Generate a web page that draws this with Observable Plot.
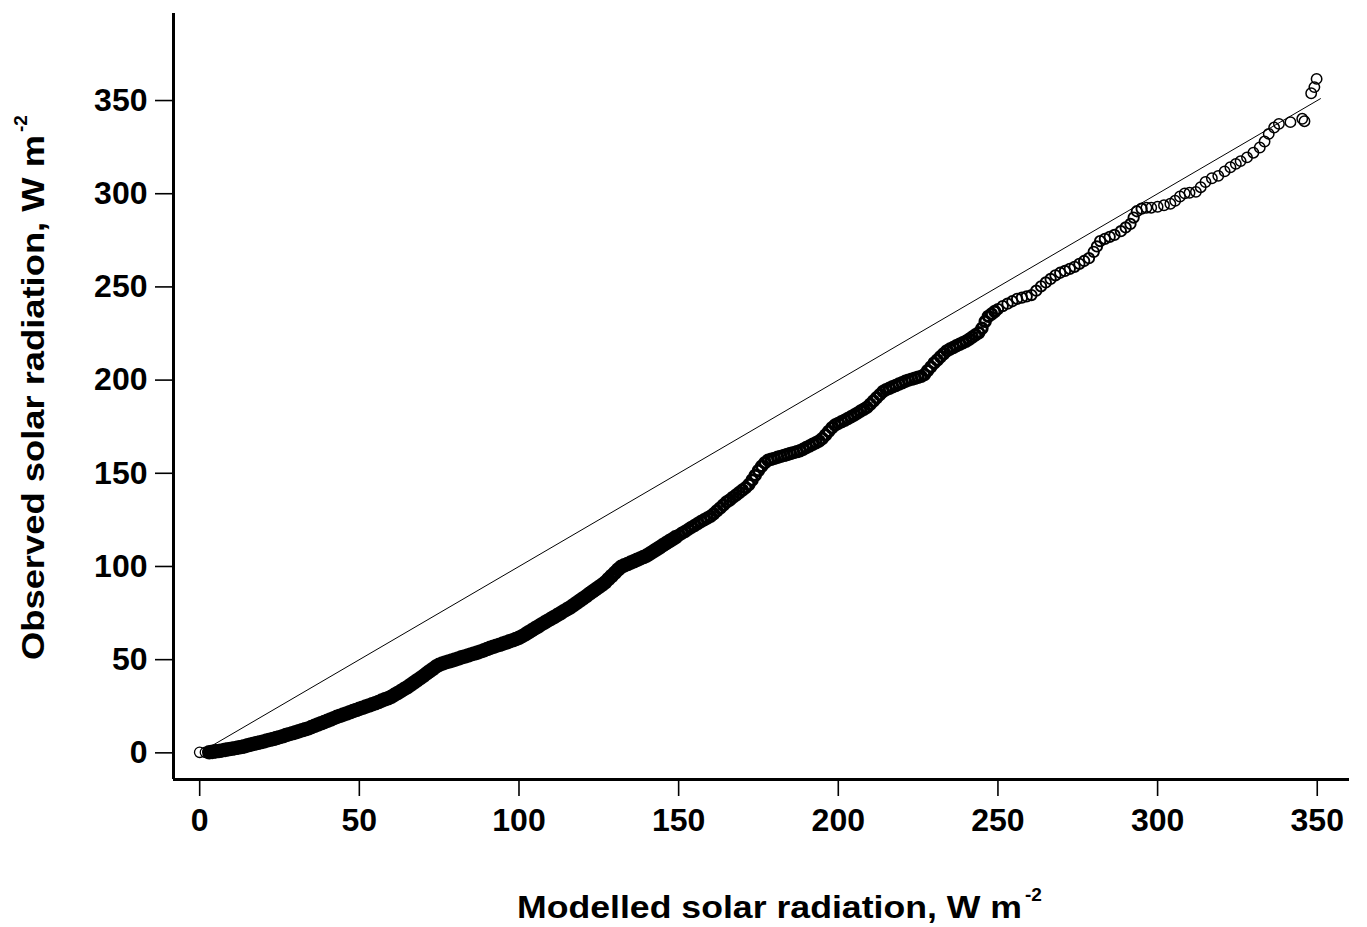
<!DOCTYPE html>
<html>
<head>
<meta charset="utf-8">
<script src="https://cdn.jsdelivr.net/npm/d3@7"></script>
<script src="https://cdn.jsdelivr.net/npm/@observablehq/plot@0.6"></script>
<style>
  html, body { margin: 0; padding: 0; background: #fff; }
  svg { display: block; }
</style>
</head>
<body>
<div id="chart"></div>
<script>
// Modelled (x) and observed (y) solar radiation quantiles, W m-2
const modelled = [
  0, 1.8,
  3,4,5,6,7,8,9,10,11,12,13,14,15,16,17,18,19,20,21,22,23,24,25,26,27,28,29,30,
  31,32,33,34,35,36,37,38,39,40,41,42,43,44,45,46,47,48,49,50,51,52,53,54,55,56,57,58,59,60,
  61,62,63,64,65,66,67,68,69,70,71,72,73,74,75,76,77,78,79,80,81,82,83,84,85,86,87,88,89,90,
  91,92,93,94,95,96,97,98,99,100,101,102,103,104,105,106,107,108,109,110,111,112,113,114,115,116,117,118,119,120,
  121,122,123,124,125,126,127,128,129,130,131,132,133,134,135,136,137,138,139,140,141,142,143,144,145,146,147,148,149,150,
  151,152,153,154,155,156,157,158,159,160,161,162,163,164,165,166,167,168,169,170,171,172,173,174,175,176,177,178,179,180,
  181,182,183,184,185,186,187,188,189,190,191,192,193,194,195,196,197,198,199,200,201,202,203,204,205,206,207,208,209,210,
  211,212,213,214,215,216,217,218,219,220,221,222,223,224,225,226,227,228,229,230,231,232,233,234,235,236,237,238,239,240,
  241,242,243,244,245,246,247,248,249,250,
  251.5,253,254.5,256,257.5,259,260.5,262,263.5,265,266.5,268,269.5,271,272.5,274,275.5,277,278.5,280,
  281,282,283.5,285,286.5,288.5,290,291.5,292.5,293.5,295,296.5,298,300,302,304,305.5,307,308.5,310,
  312,313.5,315,317,319,321,322.8,324.5,326,328,330,332,333.5,334.8,336.5,338,341.6,345.3,346,348.1,
  349.1,349.8
];
const observed = [
  0.3, 0.3,
  0.3,0.5,0.8,1.0,1.3,1.6,1.9,2.2,2.5,2.8,3.1,3.5,4.0,4.4,4.9,5.3,5.7,6.1,6.6,7.0,7.4,7.9,8.4,8.9,9.5,10.0,10.5,11.0,
  11.5,12.1,12.6,13.1,13.8,14.5,15.2,15.9,16.5,17.2,17.9,18.6,19.3,19.9,20.5,21.1,21.8,22.4,23.0,23.6,24.2,24.8,25.4,26.0,26.6,27.3,28.0,28.7,29.3,30.1,
  31.1,32.1,33.1,34.2,35.2,36.4,37.6,38.8,40.0,41.2,42.5,43.8,45.0,46.3,47.2,47.9,48.5,49.0,49.5,50.0,50.6,51.2,51.7,52.2,52.8,53.3,53.8,54.4,55.0,55.7,
  56.3,56.9,57.5,58.0,58.6,59.2,59.8,60.4,61.0,61.7,62.6,63.6,64.7,65.7,66.8,67.8,68.9,69.9,70.9,71.9,72.9,73.9,74.9,76.0,77.0,78.0,79.2,80.4,81.6,82.8,
  84.0,85.3,86.5,87.7,88.9,90.1,91.5,93.2,94.9,96.6,98.3,99.8,100.6,101.3,102.1,102.8,103.6,104.3,105.1,105.8,106.9,108.0,109.1,110.2,111.3,112.4,113.5,114.5,115.6,116.7,
  117.8,118.8,119.9,121.0,122.0,123.1,124.1,125.1,126.0,127.0,128.3,129.9,131.4,133.0,134.6,135.7,137.1,138.4,139.7,141.0,142.3,144.0,146.4,148.9,151.5,153.8,155.6,157.0,157.5,158.0,
  158.6,159.1,159.6,160.1,160.6,161.1,161.6,162.1,162.9,163.8,164.7,165.6,166.4,167.3,168.7,170.6,172.5,174.4,175.9,176.8,177.7,178.5,179.4,180.3,181.3,182.3,183.4,184.4,185.4,187.1,
  188.8,190.5,192.2,193.9,194.9,195.6,196.4,197.1,197.9,198.6,199.4,200.0,200.5,201.0,201.5,202.0,203.0,205.1,207.1,209.2,210.8,212.5,214.1,215.7,216.7,217.5,218.4,219.2,220.0,220.9,
  221.9,223.1,224.3,225.4,227.8,231.5,234.2,235.5,236.8,238.1,
  239.7,241.0,242.3,243.6,244.2,244.9,245.6,248.0,250.3,252.4,254.3,256.2,257.6,258.6,259.7,260.8,262.4,263.9,265.4,268.8,
  271.7,274.6,275.8,276.9,277.9,279.9,281.9,283.8,287.2,290.6,292.0,292.5,292.5,293.0,293.8,294.6,296.2,298.5,300.2,300.5,
  301.0,303.5,306.3,308.3,309.6,312.0,314.2,316.0,317.5,319.5,322.0,324.8,328.0,332.1,335.5,337.5,338.4,340.2,338.9,353.9,
  357.2,361.6
];
// 1:1 reference line endpoints
const oneToOne = [3, 351];
const xTicks = [0, 50, 100, 150, 200, 250, 300, 350];
const yTicks = [0, 50, 100, 150, 200, 250, 300, 350];
const xTitle = "Modelled solar radiation, W m";
const yTitle = "Observed solar radiation, W m";
const unitSup = "-2";

const points = modelled.map((m, i) => ({m, o: observed[i]}));
const xDomain = [-8.2, 360.1];
const yDomain = [-14.3, 396.7];
const font = "'Liberation Sans', Arial, Helvetica, sans-serif";

// where points crowd together the overlapping rings read as a solid band
const ringWidth = d => d.m < 3 ? 1.3 : d.m < 150 ? 4.2 : d.m < 250 ? 3 : d.m < 296 ? 1.9 : 1.5;

const chart = Plot.plot({
  width: 1367,
  height: 927,
  marginLeft: 173,
  marginRight: 18,
  marginTop: 13,
  marginBottom: 148,
  style: {fontFamily: font, fontWeight: "bold", fontSize: "32px", color: "#000", background: "#fff", overflow: "visible"},
  x: {domain: xDomain},
  y: {domain: yDomain},
  marks: [
    Plot.axisX({ticks: xTicks, tickSize: 17, tickPadding: 12, label: null, strokeWidth: 1.6, fontSize: 32, fontWeight: "bold"}),
    Plot.axisY({ticks: yTicks, tickSize: 18, tickPadding: 8, label: null, strokeWidth: 1.6, fontSize: 32, fontWeight: "bold"}),
    Plot.ruleX([xDomain[0]], {stroke: "#000", strokeWidth: 3}),
    Plot.ruleY([yDomain[0]], {stroke: "#000", strokeWidth: 3}),
    Plot.line(oneToOne.map(v => ({m: v, o: v})), {x: "m", y: "o", stroke: "#000", strokeWidth: 1}),
    Plot.dot(points, {x: "m", y: "o", r: 5.2, stroke: "#000", strokeWidth: ringWidth, fill: "none"})
  ]
});
document.getElementById("chart").append(chart);

// Axis titles with superscript units
const svg = d3.select(chart);
const xt = svg.append("g").attr("font-family", font).attr("font-weight", "bold").attr("fill", "#000")
  .attr("text-anchor", "start");
xt.append("text").attr("x", 517).attr("y", 918).attr("font-size", 31)
  .attr("textLength", 505).attr("lengthAdjust", "spacingAndGlyphs").text(xTitle);
xt.append("text").attr("x", 1025).attr("y", 901).attr("font-size", 19).text(unitSup);

const yt = svg.append("g").attr("font-family", font).attr("font-weight", "bold").attr("fill", "#000")
  .attr("text-anchor", "start")
  .attr("transform", "translate(44,660) rotate(-90)");
yt.append("text").attr("x", 0).attr("y", 0).attr("font-size", 31)
  .attr("textLength", 525).attr("lengthAdjust", "spacingAndGlyphs").text(yTitle);
yt.append("text").attr("x", 528).attr("y", -17).attr("font-size", 19).text(unitSup);
</script>
</body>
</html>
